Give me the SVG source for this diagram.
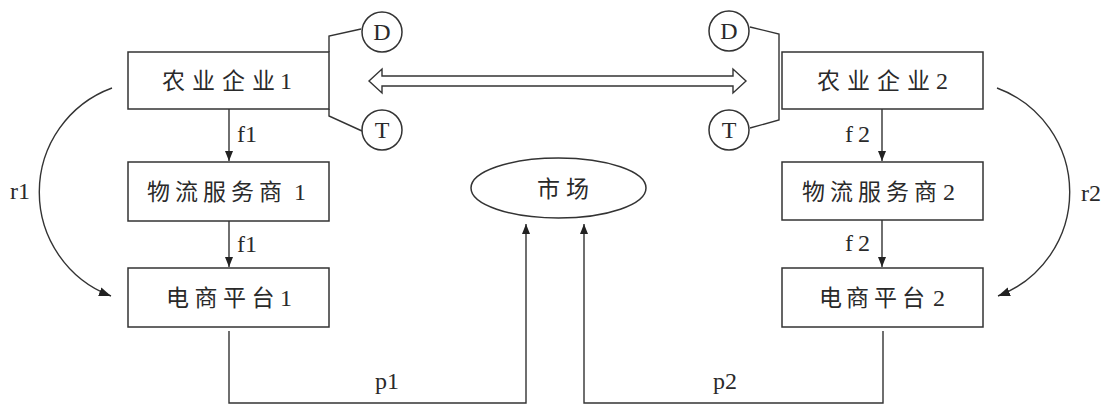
<svg xmlns="http://www.w3.org/2000/svg" width="1107" height="408" viewBox="0 0 1107 408">
<style>
.box{fill:#fff;stroke:#333;stroke-width:1.5}
.cjk{font-family:"Liberation Serif","Noto Sans CJK SC",serif;font-size:23px;fill:#2a2a2a}
.lat{font-family:"Liberation Serif",serif;font-size:24px;fill:#2a2a2a}
.ln{fill:none;stroke:#333;stroke-width:1.4}
</style>
<defs>
<marker id="ah" viewBox="0 0 10 10" refX="10" refY="5" markerWidth="10" markerHeight="10" markerUnits="userSpaceOnUse" orient="auto">
<path d="M0,1 L10,5 L0,9 z" fill="#222"/>
</marker>
<marker id="ah2" viewBox="0 0 12 10" refX="12" refY="5" markerWidth="12" markerHeight="10" markerUnits="userSpaceOnUse" orient="auto">
<path d="M0,0.5 L12,5 L0,9.5 z" fill="#222"/>
</marker>
</defs>
<rect width="1107" height="408" fill="#fff"/>

<g id="connectors">
<path class="ln" d="M229,109 V161" marker-end="url(#ah)"/>
<path class="ln" d="M229,221 V267" marker-end="url(#ah)"/>
<path class="ln" d="M882,109 V161" marker-end="url(#ah)"/>
<path class="ln" d="M882,220 V267" marker-end="url(#ah)"/>
<path class="ln" d="M229,331 V403 H526 V224" marker-end="url(#ah)"/>
<path class="ln" d="M883,331 V403 H584 V224" marker-end="url(#ah)"/>
<path class="ln" d="M112,88 A111,111 0 0 0 111,296" marker-end="url(#ah2)"/>
<path class="ln" d="M997,88 A111,111 0 0 1 998,296" marker-end="url(#ah2)"/>
<path class="ln" d="M361,29 L329,36 V52"/>
<path class="ln" d="M329,109 V116 L362,131"/>
<path class="ln" d="M750,27 L779,34 V120 L750,128"/>
<polygon class="ln" points="369,81 382,69 382,76 733,76 733,69 746,81 733,93 733,86 382,86 382,93"/>
<text class="lat" x="237" y="142">f1</text>
<text class="lat" x="237" y="252">f1</text>
<text class="lat" x="845 858" y="142">f2</text>
<text class="lat" x="845 858" y="251">f2</text>
<text class="lat" x="375" y="389">p1</text>
<text class="lat" x="713" y="389">p2</text>
<text class="lat" x="10" y="199">r1</text>
<text class="lat" x="1081" y="201">r2</text>
</g>

<g id="firm1">
<rect class="box" x="128" y="52" width="201" height="57"/>
<text class="cjk" x="162 192 222 252 275" y="89">农业企业 <tspan class="lat" x="280">1</tspan></text>
</g>
<g id="log1">
<rect class="box" x="128" y="162" width="201" height="59"/>
<text class="cjk" x="147 175 203 231 259 282" y="200">物流服务商 <tspan class="lat" x="294">1</tspan></text>
</g>
<g id="ec1">
<rect class="box" x="128" y="268" width="201" height="59"/>
<text class="cjk" x="166 194.5 223 251.5 275" y="306">电商平台 <tspan class="lat" x="280">1</tspan></text>
</g>
<g id="firm2">
<rect class="box" x="782" y="52" width="201" height="57"/>
<text class="cjk" x="817 847 877 907 931" y="89">农业企业 <tspan class="lat" x="936">2</tspan></text>
</g>
<g id="log2">
<rect class="box" x="782" y="162" width="201" height="58"/>
<text class="cjk" x="802 830 858 886 914 937" y="200">物流服务商 <tspan class="lat" x="943">2</tspan></text>
</g>
<g id="ec2">
<rect class="box" x="782" y="268" width="201" height="59"/>
<text class="cjk" x="819 846 874 902 926" y="306">电商平台 <tspan class="lat" x="933">2</tspan></text>
</g>
<g id="market">
<ellipse class="box" cx="558.5" cy="188" rx="87.5" ry="30"/>
<text class="cjk" x="537 566" y="197">市场</text>
</g>
<g id="D1">
<circle class="box" cx="382" cy="32" r="20"/>
<text class="lat" x="382" y="40" text-anchor="middle">D</text>
</g>
<g id="T1">
<circle class="box" cx="382" cy="130" r="20"/>
<text class="lat" x="382" y="138" text-anchor="middle">T</text>
</g>
<g id="D2">
<circle class="box" cx="729" cy="31" r="20"/>
<text class="lat" x="729" y="39" text-anchor="middle">D</text>
</g>
<g id="T2">
<circle class="box" cx="729" cy="130" r="20"/>
<text class="lat" x="729" y="138" text-anchor="middle">T</text>
</g>
</svg>
